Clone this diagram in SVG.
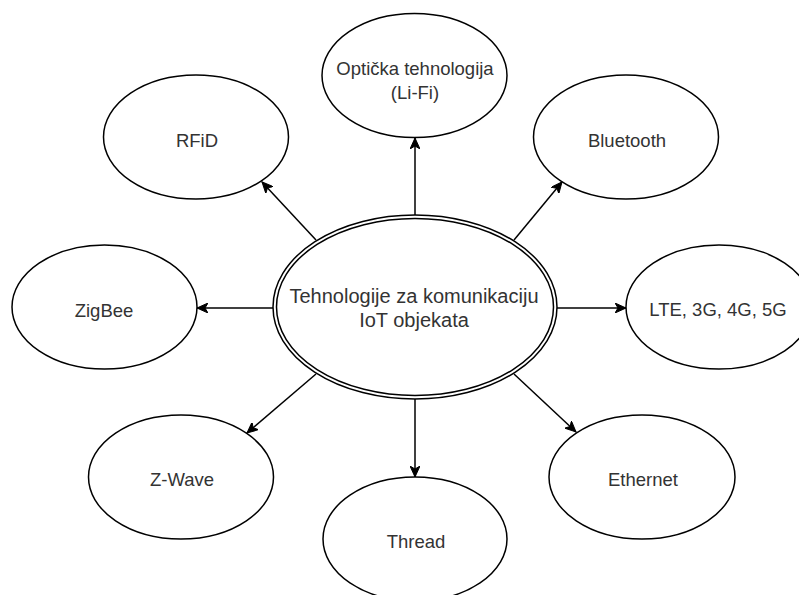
<svg xmlns="http://www.w3.org/2000/svg" width="799" height="595" viewBox="0 0 799 595">
  <style>
    .node { fill: #ffffff; stroke: #000000; stroke-width: 1.5; }
    .lbl { font-family: "Liberation Sans", Arial, Helvetica, sans-serif; font-size: 18.5px; fill: #333333; text-anchor: middle; }
    .big { font-size: 20px; }
    .edge { stroke: #000000; stroke-width: 1.5; fill: none; marker-end: url(#arrow); }
  </style>
  <defs>
    <marker id="arrow" markerUnits="userSpaceOnUse" markerWidth="12" markerHeight="10" refX="11" refY="5" orient="auto">
      <path d="M0,0 L11,5 L0,10 L3,5 Z" fill="#000000" stroke="#000000" stroke-width="1"/>
    </marker>
  </defs>
  <rect width="799" height="595" fill="#ffffff"/>

  <g id="connectors">
    <line class="edge" x1="415" y1="215" x2="415" y2="138"/>
    <line class="edge" x1="316" y1="240" x2="262" y2="182"/>
    <line class="edge" x1="514" y1="240" x2="562" y2="182"/>
    <line class="edge" x1="273" y1="308" x2="197" y2="308"/>
    <line class="edge" x1="557" y1="308" x2="626" y2="308"/>
    <line class="edge" x1="316" y1="374" x2="247" y2="433"/>
    <line class="edge" x1="514" y1="374" x2="576" y2="432"/>
    <line class="edge" x1="415" y1="399" x2="415" y2="477"/>
  </g>

  <g id="center">
    <ellipse class="node" cx="415" cy="307" rx="142" ry="92"/>
    <ellipse class="node" cx="415" cy="307" rx="138.5" ry="88.5"/>
    <text class="lbl big" x="414" y="303">Tehnologije za komunikaciju</text>
    <text class="lbl big" x="414" y="327">IoT objekata</text>
  </g>

  <g id="lifi">
    <ellipse class="node" cx="414.5" cy="75.5" rx="92.5" ry="62"/>
    <text class="lbl" x="415" y="74.5">Optička tehnologija</text>
    <text class="lbl" x="415" y="98.5">(Li-Fi)</text>
  </g>

  <g id="rfid">
    <ellipse class="node" cx="196" cy="137" rx="92.5" ry="62"/>
    <text class="lbl" x="197" y="146.5">RFiD</text>
  </g>

  <g id="bluetooth">
    <ellipse class="node" cx="626" cy="137" rx="92.5" ry="62"/>
    <text class="lbl" x="627" y="146.5">Bluetooth</text>
  </g>

  <g id="zigbee">
    <ellipse class="node" cx="104.5" cy="307" rx="92.5" ry="62"/>
    <text class="lbl" x="104" y="316.5">ZigBee</text>
  </g>

  <g id="lte">
    <ellipse class="node" cx="719" cy="307" rx="93" ry="62"/>
    <text class="lbl" x="718" y="315.5">LTE, 3G, 4G, 5G</text>
  </g>

  <g id="zwave">
    <ellipse class="node" cx="181" cy="477" rx="92.5" ry="62"/>
    <text class="lbl" x="182" y="485.5">Z-Wave</text>
  </g>

  <g id="thread">
    <ellipse class="node" cx="415" cy="539" rx="92" ry="62"/>
    <text class="lbl" x="416" y="547.5">Thread</text>
  </g>

  <g id="ethernet">
    <ellipse class="node" cx="642" cy="477" rx="93" ry="62"/>
    <text class="lbl" x="643" y="485.5">Ethernet</text>
  </g>
</svg>
